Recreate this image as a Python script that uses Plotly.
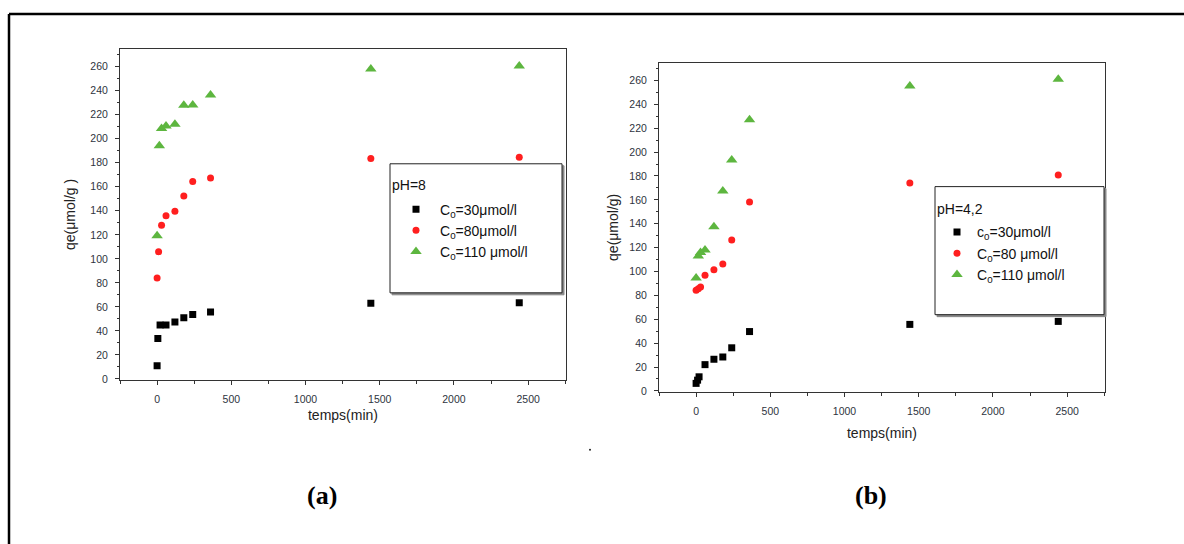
import plotly.graph_objects as go

W, H = 1184, 544

# (a) pH = 8 : adsorption kinetics for three initial concentrations
t_a_30 = [0, 5, 20, 60, 120, 180, 240, 360, 1440, 2440]
q_a_30 = [11, 33.6, 45, 45, 47.4, 51, 53.7, 55.7, 63, 63.4]
t_a_80 = [0, 10, 30, 60, 120, 180, 240, 360, 1440, 2440]
q_a_80 = [84, 106, 128, 135.8, 139.7, 152.4, 164.5, 167.3, 183.5, 184.5]
t_a_110 = [0, 15, 30, 60, 120, 180, 240, 360, 1440, 2440]
q_a_110 = [119.3, 194.2, 208.6, 210.7, 212, 227.8, 228, 236.4, 258, 260.5]

# (b) pH = 4,2
t_b_30 = [0, 10, 20, 60, 120, 180, 240, 360, 1440, 2440]
q_b_30 = [6.3, 9, 11.8, 22, 26.5, 28.4, 36.1, 49.7, 55.7, 58.2]
t_b_80 = [0, 15, 30, 60, 120, 180, 240, 360, 1440, 2440]
q_b_80 = [84.4, 85.5, 87, 96.9, 101.5, 106.2, 126.4, 158.1, 174.2, 180.8]
t_b_110 = [0, 15, 30, 60, 120, 180, 240, 360, 1440, 2440]
q_b_110 = [94.6, 113, 116, 118, 137.5, 167.5, 193.4, 227, 255.3, 261]

names_a = ["C<sub>0</sub>=30μmol/l", "C<sub>0</sub>=80μmol/l", "C<sub>0</sub>=110 μmol/l"]
names_b = ["c<sub>0</sub>=30μmol/l", "C<sub>0</sub>=80 μmol/l", "C<sub>0</sub>=110 μmol/l"]
titles = ["pH=8", "pH=4,2"]
x_ticks = [0, 500, 1000, 1500, 2000, 2500]

BLACK, RED, GREEN = "#000000", "#FF1F1F", "#5DB63F"
styles = [("square", 7, BLACK), ("circle", 7, RED), ("triangle-up", 10, GREEN)]
FONT = "Liberation Sans, Arial, sans-serif"
AX = "#333333"


def px(x):
    return x / W


def py(y):
    return 1 - y / H


fig = go.Figure()

series = [
    ("x", "y", "legend", [(t_a_30, q_a_30), (t_a_80, q_a_80), (t_a_110, q_a_110)], names_a),
    ("x2", "y2", "legend2", [(t_b_30, q_b_30), (t_b_80, q_b_80), (t_b_110, q_b_110)], names_b),
]
for xa, ya, leg, data, names in series:
    for i, ((t, q), name, (sym, size, col)) in enumerate(zip(data, names, styles)):
        fig.add_trace(go.Scatter(
            x=t, y=q, mode="markers", name=name, xaxis=xa, yaxis=ya,
            legend=leg, legendgroup=f"{leg}{i}",
            marker=dict(symbol=sym, size=size, color=col, line=dict(width=0)),
        ))

axis_common = dict(
    showline=True, linecolor=AX, linewidth=1, mirror=True,
    showgrid=False, zeroline=False,
    ticks="outside", ticklen=4, tickwidth=1, tickcolor=AX,
    tickfont=dict(family=FONT, size=10.5, color="#2E3440"),
)

x_common = dict(axis_common, range=[-250, 2755], tickvals=x_ticks, ticklabelstandoff=5,
                minor=dict(dtick=250, tick0=0, ticks="outside", ticklen=2.5, tickcolor=AX))
y_common = dict(axis_common, range=[-1, 275], dtick=20, tick0=0, ticklabelstandoff=5,
                minor=dict(dtick=10, tick0=0, ticks="outside", ticklen=2.5, tickcolor=AX))
title_font = dict(family=FONT, size=14, color="#222")

fig.update_layout(
    width=W, height=H,
    margin=dict(l=0, r=0, t=0, b=0),
    paper_bgcolor="white", plot_bgcolor="white",
    xaxis=dict(x_common, domain=[px(120), px(566)], anchor="y",
               title=dict(text="temps(min)", font=title_font, standoff=6)),
    yaxis=dict(y_common, domain=[py(383), py(49)], anchor="x",
               title=dict(text="qe(μmol/g )", font=title_font, standoff=11)),
    xaxis2=dict(x_common, domain=[px(659), px(1105)], anchor="y2",
                title=dict(text="temps(min)", font=title_font, standoff=12)),
    yaxis2=dict(y_common, domain=[py(395), py(63)], anchor="x2",
                title=dict(text="qe(μmol/g)", font=title_font, standoff=7)),
    legend=dict(x=px(392), y=py(195), xanchor="left", yanchor="top",
                bgcolor="rgba(0,0,0,0)", borderwidth=0, tracegroupgap=0, itemwidth=38,
                font=dict(family=FONT, size=14, color="#111")),
    legend2=dict(x=px(937), y=py(218), xanchor="left", yanchor="top",
                 bgcolor="rgba(0,0,0,0)", borderwidth=0, tracegroupgap=0, itemwidth=30,
                 font=dict(family=FONT, size=14, color="#111")),
    showlegend=True,
)

shapes = [
    # outer frame: top and left edges
    dict(type="line", xref="paper", yref="paper", x0=px(9), y0=py(14), x1=1.05, y1=py(14),
         line=dict(color="black", width=2.5), layer="above"),
    dict(type="line", xref="paper", yref="paper", x0=px(9), y0=py(14), x1=px(9), y1=-0.05,
         line=dict(color="black", width=2.5), layer="above"),
]
# legend boxes with a thin drop shadow
for (x0, y0, x1, y1) in [(390, 165, 562, 295), (935, 188, 1104, 317)]:
    shapes.append(dict(type="rect", xref="paper", yref="paper",
                       x0=px(x0 + 2), y0=py(y0 + 2), x1=px(x1 + 2), y1=py(y1 + 2),
                       line=dict(color="#888", width=1), fillcolor="#888", layer="above"))
    shapes.append(dict(type="rect", xref="paper", yref="paper",
                       x0=px(x0), y0=py(y0), x1=px(x1), y1=py(y1),
                       line=dict(color="#222", width=1), fillcolor="white", layer="above"))
# small stray dot between the panels
shapes.append(dict(type="circle", xref="paper", yref="paper",
                   x0=px(589), y0=py(452), x1=px(591), y1=py(454),
                   line=dict(width=0), fillcolor="#222", layer="above"))
fig.update_layout(shapes=shapes)

annotations = [
    dict(text=titles[0], x=px(390), y=py(186), xanchor="left", yanchor="middle"),
    dict(text=titles[1], x=px(935), y=py(211), xanchor="left", yanchor="middle"),
]
for a in annotations:
    a.update(xref="paper", yref="paper", showarrow=False,
             font=dict(family=FONT, size=14, color="#111"))
annotations += [
    dict(text="<b>(a)</b>", x=px(305), y=py(516), xref="paper", yref="paper", showarrow=False,
         font=dict(family="Liberation Serif, Times New Roman, serif", size=26, color="black")),
    dict(text="<b>(b)</b>", x=px(889), y=py(516), xref="paper", yref="paper", showarrow=False,
         font=dict(family="Liberation Serif, Times New Roman, serif", size=26, color="black")),
]
fig.update_layout(annotations=annotations)

fig.write_html("out.html")
